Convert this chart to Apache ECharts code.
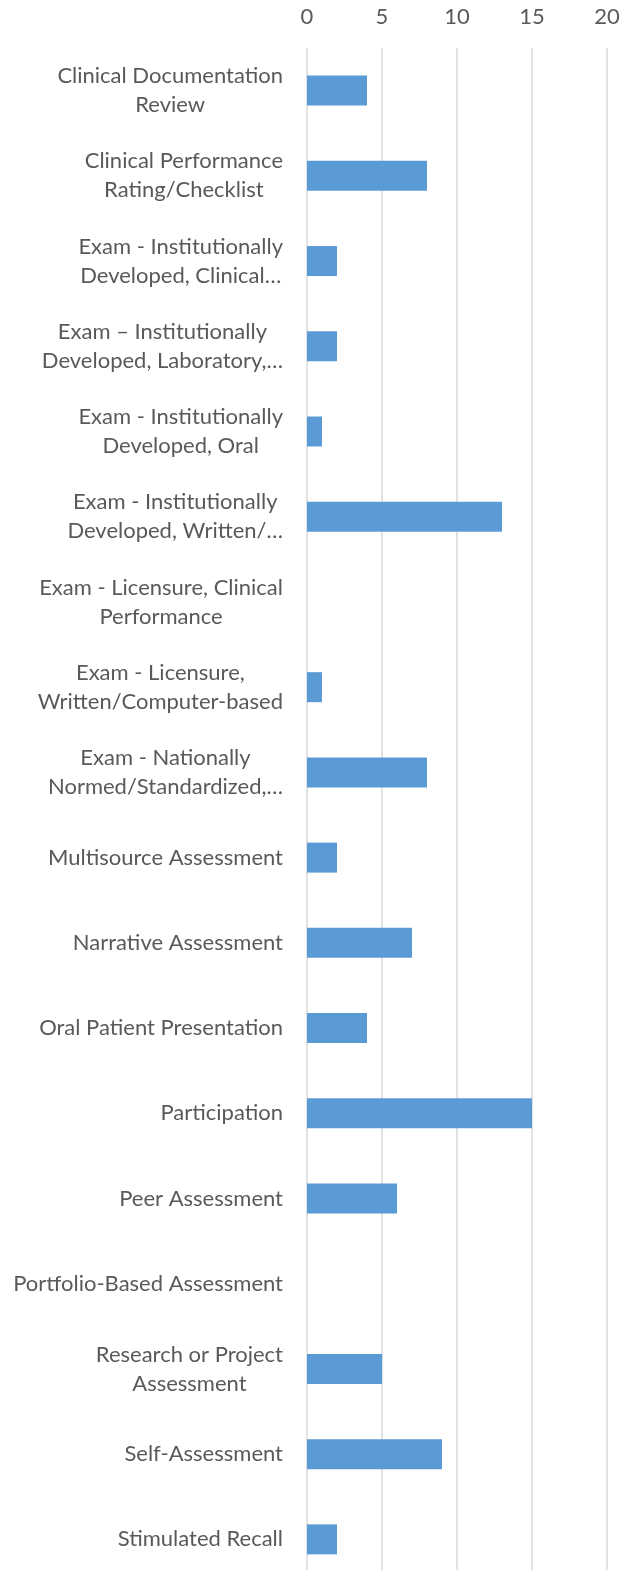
<!DOCTYPE html>
<html>
<head>
<meta charset="utf-8">
<script src="https://cdn.jsdelivr.net/npm/echarts@6/dist/echarts.min.js"></script>
<style>
html,body{margin:0;padding:0;background:#fff;}
#chart{width:632px;height:1570px;}
</style>
</head>
<body>
<div id="chart"></div>
<script>
const categories = [
  "Clinical Documentation\nReview",
  "Clinical Performance\nRating/Checklist",
  "Exam - Institutionally\nDeveloped, Clinical…",
  "Exam – Institutionally\nDeveloped, Laboratory,…",
  "Exam - Institutionally\nDeveloped, Oral",
  "Exam - Institutionally\nDeveloped, Written/…",
  "Exam - Licensure, Clinical\nPerformance",
  "Exam - Licensure,\nWritten/Computer-based",
  "Exam - Nationally\nNormed/Standardized,…",
  "Multisource Assessment",
  "Narrative Assessment",
  "Oral Patient Presentation",
  "Participation",
  "Peer Assessment",
  "Portfolio-Based Assessment",
  "Research or Project\nAssessment",
  "Self-Assessment",
  "Stimulated Recall"
];
const values = [4, 8, 2, 2, 1, 13, 0, 1, 8, 2, 7, 4, 15, 6, 0, 5, 9, 2];
const xTicks = { min: 0, max: 20, interval: 5 };

const chart = echarts.init(document.getElementById('chart'), null, { renderer: 'canvas' });
const font = 'Lato, "Noto Sans", sans-serif';
const fs = 22;
chart.setOption({
  animation: false,
  backgroundColor: '#ffffff',
  grid: { left: 307, right: 25, top: 48, height: 1534, containLabel: false, outerBoundsMode: 'none' },
  xAxis: {
    type: 'value',
    position: 'top',
    min: xTicks.min, max: xTicks.max, interval: xTicks.interval,
    axisLine: { show: false },
    axisTick: { show: false },
    axisLabel: { color: '#595959', fontSize: 22, fontFamily: font, margin: 20 },
    splitLine: { show: true, lineStyle: { color: '#d9d9d9', width: 1.5 } }
  },
  yAxis: {
    type: 'category',
    inverse: true,
    data: categories,
    axisLine: { show: false },
    axisTick: { show: false },
    axisLabel: {
      margin: 24,
      color: '#595959',
      fontSize: fs,
      fontFamily: font,
      lineHeight: 29,
      formatter: function (v) {
        return v.split('\n').map(function (l) { return '{c|' + l + '}'; }).join('\n');
      },
      rich: { c: { align: 'center', color: '#595959', fontSize: fs, fontFamily: font, lineHeight: 29 } }
    }
  },
  series: [{
    type: 'bar',
    data: values,
    barWidth: 30,
    itemStyle: { color: '#5b9bd5' }
  }]
});
</script>
</body>
</html>
